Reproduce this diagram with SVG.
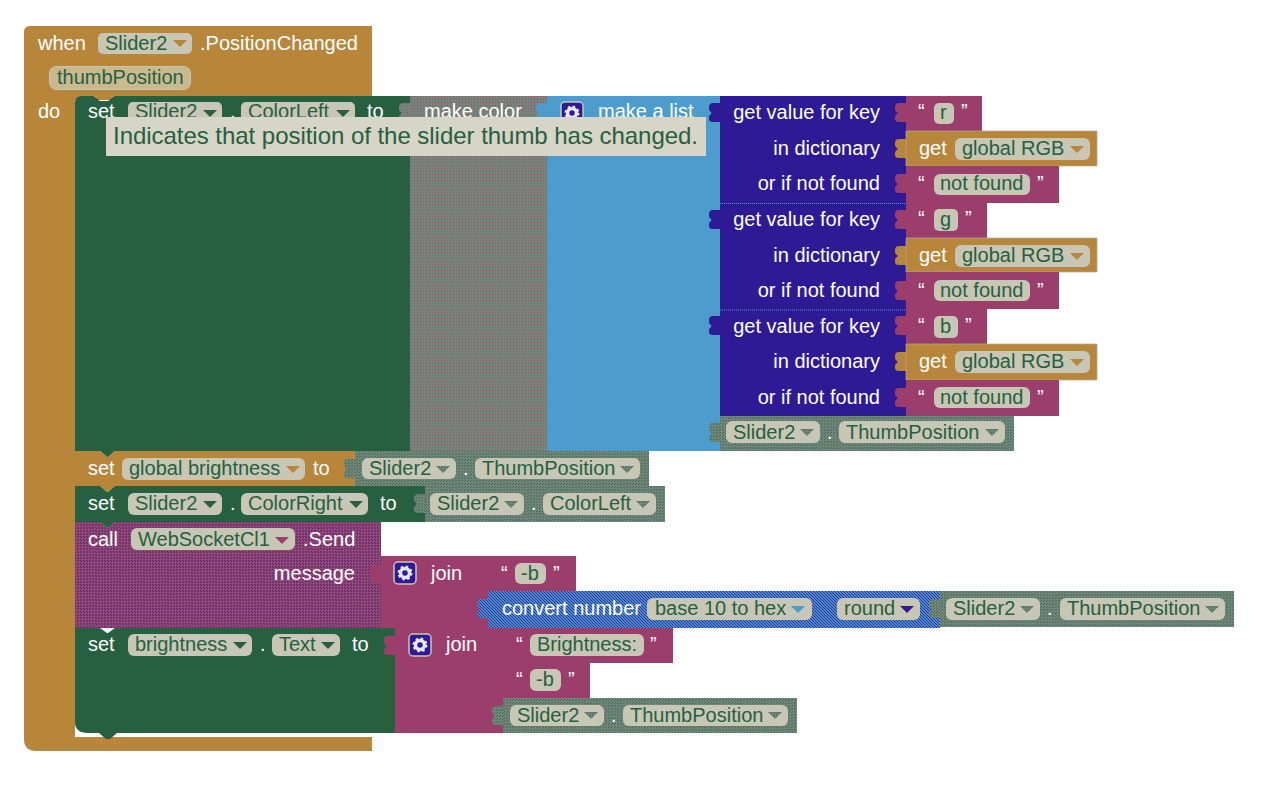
<svg xmlns="http://www.w3.org/2000/svg" width="1286" height="812" viewBox="0 0 1286 812">
<style>
text{font-family:"Liberation Sans",Arial,sans-serif;font-size:20px;fill:#fff}
.f{fill:#c8c7b5}
.ft{fill:#266040}
.o{fill:#b8863b}.g{fill:#266040}.p{fill:#9c3e6b}.d{fill:#2e1a94}.l{fill:#4c9dce}
.s{fill:url(#grey)}.c{fill:url(#call)}.v{fill:url(#conv)}.m{fill:url(#mk)}
.r{text-anchor:end}
.edge{stroke:#a9ad9c;stroke-width:1;stroke-opacity:.7}
.sep{stroke:#4c9dce;stroke-width:1;stroke-dasharray:1 1}
</style>
<defs>
<pattern id="grey" width="3" height="3" patternUnits="userSpaceOnUse"><rect width="3" height="3" fill="#72857a"/><rect width="1" height="1" fill="#3f6d55"/><rect x="2" y="1" width="1" height="1" fill="#3f6d55"/></pattern>
<pattern id="call" width="3" height="3" patternUnits="userSpaceOnUse"><rect width="3" height="3" fill="#9c3e6b"/><rect width="1" height="1" fill="#4a2a8c"/><rect x="1" y="1" width="1" height="1" fill="#6f6f78"/><rect x="2" y="2" width="1" height="1" fill="#4a2a8c"/></pattern>
<pattern id="conv" width="3" height="3" patternUnits="userSpaceOnUse"><rect width="3" height="3" fill="#4c8ecc"/><rect width="1" height="1" fill="#2e2a9c"/><rect x="1" y="1" width="1" height="1" fill="#2e2a9c"/><rect x="2" y="2" width="1" height="1" fill="#2e2a9c"/></pattern>
<pattern id="mk" width="3" height="3" patternUnits="userSpaceOnUse"><rect width="3" height="3" fill="#74847a"/><rect width="1" height="1" fill="#a8486c"/></pattern>
<path id="caret" d="M0 0h14l-7 7z"/>
<path id="tab" d="M12 0H5Q1 0 1 4V6Q1 8 3 9Q4 10 3 11Q1 12 1 14V16Q1 19 5 19H12z"/>
<g id="gear"><rect x="0" y="0" width="22" height="22" rx="4" fill="#2e1a94" stroke="#c8c7b5" stroke-width="1.5"/><circle cx="11" cy="11" r="4.5" fill="none" stroke="#e6e6f0" stroke-width="3.5"/><circle cx="11" cy="11" r="6.5" fill="none" stroke="#e6e6f0" stroke-width="2" stroke-dasharray="2.5 2.6"/></g>
</defs>

<g id="when-block">
<path class="o" d="M30 26H372V100H75V737H372V751H36Q24 751 24 739V32Q24 26 30 26z"/>
<text x="38" y="50">when</text>
<rect class="f" x="98" y="33" width="94" height="21" rx="5"/><text class="ft" x="105" y="50">Slider2</text><use href="#caret" x="173" y="40" class="o"/>
<text x="200" y="50">.PositionChanged</text>
<rect x="49.500" y="66.500" width="141" height="23" rx="7" fill="#c9b98f" stroke="#c8c7b5"/><text class="ft" x="57" y="84">thumbPosition</text>
<text x="38" y="118">do</text>
</g>

<g id="set-colorleft">
<path class="g" d="M82 96H93l7 5h8l7-5H410V451H115l-7 6h-1l-7-6H75V103Q75 96 82 96z"/>
<text x="88" y="118">set</text>
<rect class="f" x="128" y="102" width="94" height="21" rx="5"/><text class="ft" x="135" y="118">Slider2</text><use href="#caret" x="203" y="110" class="g"/>
<text x="230" y="118">.</text>
<rect class="f" x="241" y="102" width="114" height="21" rx="5"/><text class="ft" x="248" y="118">ColorLeft</text><use href="#caret" x="336" y="110" class="g"/>
<text x="367" y="118">to</text>
</g>

<g id="make-color">
<use href="#tab" x="398" y="103" class="m"/>
<rect class="m" x="410" y="96" width="137" height="355"/>
<text x="424" y="118">make color</text>
</g>

<g id="make-list">
<use href="#tab" x="535" y="103" class="l"/>
<rect class="l" x="547" y="96" width="173" height="355"/>
<use href="#gear" x="561" y="102"/>
<text x="598" y="118">make a list</text>
</g>

<g id="dict-r">
<use href="#tab" x="708" y="103" class="d"/>
<rect class="d" x="720" y="96" width="186" height="107"/>
<text class="r" x="880" y="119">get value for key</text><text class="r" x="880" y="155">in dictionary</text><text class="r" x="880" y="190">or if not found</text>
</g>
<g id="dict-g">
<use href="#tab" x="708" y="210" class="d"/>
<rect class="d" x="720" y="203" width="186" height="107"/>
<path class="sep" d="M720 203.500H906"/>
<text class="r" x="880" y="226">get value for key</text><text class="r" x="880" y="262">in dictionary</text><text class="r" x="880" y="297">or if not found</text>
</g>
<g id="dict-b">
<use href="#tab" x="708" y="316" class="d"/>
<rect class="d" x="720" y="310" width="186" height="106"/>
<path class="sep" d="M720 310H906"/>
<text class="r" x="880" y="333">get value for key</text><text class="r" x="880" y="368">in dictionary</text><text class="r" x="880" y="404">or if not found</text>
</g>

<g id="text-r">
<use href="#tab" x="894" y="103" class="p"/>
<rect class="p" x="906" y="96" width="76" height="35"/>
<text x="918" y="118">“</text><rect class="f" x="934" y="103" width="20" height="21" rx="5"/><text class="ft" x="940" y="119">r</text><text x="961" y="118">”</text>
</g>
<g id="get-rgb-1">
<use href="#tab" x="894" y="139" class="o"/>
<path class="o edge" d="M906 131H1097V166H906z"/>
<text x="919" y="155">get</text><rect class="f" x="955" y="138" width="135" height="22" rx="6"/><text class="ft" x="962" y="155">global RGB</text><use href="#caret" x="1070" y="146" class="o"/>
</g>
<g id="text-nf-1">
<use href="#tab" x="894" y="174" class="p"/>
<rect class="p" x="906" y="166" width="153" height="37"/>
<text x="918" y="190">“</text><rect class="f" x="934" y="174" width="96" height="21" rx="6"/><text class="ft" x="940" y="190">not found</text><text x="1037" y="190">”</text>
</g>
<g id="text-g">
<use href="#tab" x="894" y="210" class="p"/>
<rect class="p" x="906" y="203" width="81" height="35"/>
<text x="918" y="225">“</text><rect class="f" x="934" y="209" width="24" height="22" rx="5"/><text class="ft" x="940" y="226">g</text><text x="965" y="225">”</text>
</g>
<g id="get-rgb-2">
<use href="#tab" x="894" y="246" class="o"/>
<path class="o edge" d="M906 238H1097V272H906z"/>
<text x="919" y="262">get</text><rect class="f" x="955" y="245" width="135" height="22" rx="6"/><text class="ft" x="962" y="262">global RGB</text><use href="#caret" x="1070" y="253" class="o"/>
</g>
<g id="text-nf-2">
<use href="#tab" x="894" y="281" class="p"/>
<rect class="p" x="906" y="272" width="153" height="37"/>
<text x="918" y="297">“</text><rect class="f" x="934" y="280" width="96" height="21" rx="6"/><text class="ft" x="940" y="297">not found</text><text x="1037" y="297">”</text>
</g>
<g id="text-b">
<use href="#tab" x="894" y="316" class="p"/>
<rect class="p" x="906" y="309" width="81" height="35"/>
<text x="918" y="332">“</text><rect class="f" x="934" y="316" width="24" height="22" rx="5"/><text class="ft" x="940" y="333">b</text><text x="965" y="332">”</text>
</g>
<g id="get-rgb-3">
<use href="#tab" x="894" y="352" class="o"/>
<path class="o edge" d="M906 344H1097V380H906z"/>
<text x="919" y="368">get</text><rect class="f" x="955" y="351" width="135" height="22" rx="6"/><text class="ft" x="962" y="368">global RGB</text><use href="#caret" x="1070" y="359" class="o"/>
</g>
<g id="text-nf-3">
<use href="#tab" x="894" y="388" class="p"/>
<rect class="p" x="906" y="380" width="153" height="36"/>
<text x="918" y="404">“</text><rect class="f" x="934" y="387" width="96" height="21" rx="6"/><text class="ft" x="940" y="404">not found</text><text x="1037" y="404">”</text>
</g>

<g id="thumb-1">
<use href="#tab" x="708" y="423" class="s"/>
<rect class="s" x="720" y="416" width="294" height="35"/>
<rect class="f" x="726" y="421" width="94" height="22" rx="6"/><text class="ft" x="733" y="439">Slider2</text><use href="#caret" x="800" y="429" class="s"/>
<text x="827" y="439">.</text>
<rect class="f" x="839" y="421" width="166" height="22" rx="6"/><text class="ft" x="846" y="439">ThumbPosition</text><use href="#caret" x="985" y="429" class="s"/>
</g>

<g id="set-brightness-var">
<path class="o" d="M75 451H100l7 6h1l7-6H355V486H115l-7 6h-1l-7-6H75z"/>
<text x="88" y="475">set</text>
<rect class="f" x="122" y="458" width="183" height="22" rx="6"/><text class="ft" x="129" y="475">global brightness</text><use href="#caret" x="286" y="466" class="o"/>
<text x="313" y="475">to</text>
</g>
<g id="thumb-2">
<use href="#tab" x="343" y="459" class="s"/>
<rect class="s" x="355" y="451" width="294" height="35"/>
<rect class="f" x="362" y="458" width="94" height="21" rx="6"/><text class="ft" x="369" y="475">Slider2</text><use href="#caret" x="436" y="466" class="s"/>
<text x="463" y="475">.</text>
<rect class="f" x="475" y="458" width="165" height="21" rx="6"/><text class="ft" x="482" y="475">ThumbPosition</text><use href="#caret" x="620" y="466" class="s"/>
</g>

<g id="call-send">
<path class="c" d="M75 522H100l7 6h1l7-6H381V628H75z"/>
<text x="88" y="546">call</text>
<rect class="f" x="131" y="528" width="164" height="22" rx="6"/><text class="ft" x="138" y="546">WebSocketCl1</text><use href="#caret" x="275" y="537" fill="#9c3e6b"/>
<text x="303" y="546">.Send</text>
<text class="r" x="355" y="580">message</text>
</g>

<g id="set-colorright">
<path class="g" d="M75 486H100l7 6h1l7-6H425V522H115l-7 6h-1l-7-6H75z"/>
<text x="88" y="510">set</text>
<rect class="f" x="128" y="493" width="94" height="22" rx="6"/><text class="ft" x="135" y="510">Slider2</text><use href="#caret" x="203" y="501" class="g"/>
<text x="230" y="510">.</text>
<rect class="f" x="241" y="493" width="127" height="22" rx="6"/><text class="ft" x="248" y="510">ColorRight</text><use href="#caret" x="349" y="501" class="g"/>
<text x="380" y="510">to</text>
</g>
<g id="colorleft-getter">
<use href="#tab" x="413" y="494" class="s"/>
<rect class="s" x="425" y="486" width="240" height="36"/>
<rect class="f" x="430" y="493" width="94" height="22" rx="6"/><text class="ft" x="437" y="510">Slider2</text><use href="#caret" x="504" y="501" class="s"/>
<text x="531" y="510">.</text>
<rect class="f" x="543" y="493" width="113" height="22" rx="6"/><text class="ft" x="550" y="510">ColorLeft</text><use href="#caret" x="636" y="501" class="s"/>
</g>

<g id="join-1">
<use href="#tab" x="369" y="564" class="p"/>
<rect class="p" x="381" y="556" width="107" height="72"/>
<use href="#gear" x="394" y="562"/>
<text x="431" y="580">join</text>
</g>
<g id="text-minus-b-1">
<path class="p" d="M488 556H576V591H488z"/>
<text x="501" y="580">“</text><rect class="f" x="515" y="563" width="31" height="21" rx="6"/><text class="ft" x="521" y="580">-b</text><text x="553" y="580">”</text>
</g>
<g id="convert-number">
<use href="#tab" x="476" y="599" class="v"/>
<rect class="v" x="488" y="591" width="344" height="37"/>
<text x="502" y="615">convert number</text>
<rect class="f" x="647" y="598" width="165" height="22" rx="6"/><text class="ft" x="655" y="615">base 10 to hex</text><use href="#caret" x="791" y="606" fill="#4c9dce"/>
</g>
<g id="round">
<rect class="v" x="831" y="591" width="109" height="37"/>
<rect class="f" x="837" y="598" width="83" height="22" rx="6"/><text class="ft" x="844" y="615">round</text><use href="#caret" x="900" y="606" class="d"/>
</g>
<g id="thumb-3">
<use href="#tab" x="928" y="599" class="s"/>
<rect class="s" x="940" y="591" width="294" height="36"/>
<rect class="f" x="946" y="598" width="94" height="22" rx="6"/><text class="ft" x="953" y="615">Slider2</text><use href="#caret" x="1020" y="606" class="s"/>
<text x="1047" y="615">.</text>
<rect class="f" x="1060" y="598" width="165" height="22" rx="6"/><text class="ft" x="1067" y="615">ThumbPosition</text><use href="#caret" x="1205" y="606" class="s"/>
</g>

<g id="set-brightness-text">
<path class="g" d="M75 628H100l7 5h1l7-5H395V733H117l-7 6h-4l-7-6H88Q75 733 75 722z"/>
<text x="88" y="651">set</text>
<rect class="f" x="128" y="634" width="124" height="22" rx="6"/><text class="ft" x="135" y="651">brightness</text><use href="#caret" x="233" y="642" class="g"/>
<text x="260" y="651">.</text>
<rect class="f" x="272" y="634" width="68" height="22" rx="6"/><text class="ft" x="279" y="651">Text</text><use href="#caret" x="321" y="642" class="g"/>
<text x="352" y="651">to</text>
</g>
<g id="join-2">
<use href="#tab" x="383" y="636" class="p"/>
<rect class="p" x="395" y="628" width="108" height="105"/>
<use href="#gear" x="409" y="634"/>
<text x="446" y="651">join</text>
</g>
<g id="text-brightness">
<rect class="p" x="503" y="628" width="170" height="35"/>
<text x="516" y="651">“</text><rect class="f" x="530" y="634" width="114" height="22" rx="6"/><text class="ft" x="537" y="651">Brightness:</text><text x="650" y="651">”</text>
</g>
<g id="text-minus-b-2">
<rect class="p" x="503" y="663" width="87" height="35"/>
<text x="516" y="686">“</text><rect class="f" x="530" y="669" width="31" height="22" rx="6"/><text class="ft" x="536" y="686">-b</text><text x="568" y="686">”</text>
</g>
<g id="thumb-4">
<use href="#tab" x="491" y="706" class="s"/>
<rect class="s" x="503" y="698" width="294" height="35"/>
<rect class="f" x="510" y="705" width="94" height="21" rx="6"/><text class="ft" x="517" y="722">Slider2</text><use href="#caret" x="584" y="712" class="s"/>
<text x="611" y="722">.</text>
<rect class="f" x="623" y="705" width="165" height="21" rx="6"/><text class="ft" x="630" y="722">ThumbPosition</text><use href="#caret" x="768" y="712" class="s"/>
</g>

<g id="tooltip">
<rect x="106" y="117" width="600" height="39" fill="#d6d5c6"/>
<text x="113" y="144" style="font-size:24px;fill:#266040" textLength="585" lengthAdjust="spacing">Indicates that position of the slider thumb has changed.</text>
</g>
</svg>
